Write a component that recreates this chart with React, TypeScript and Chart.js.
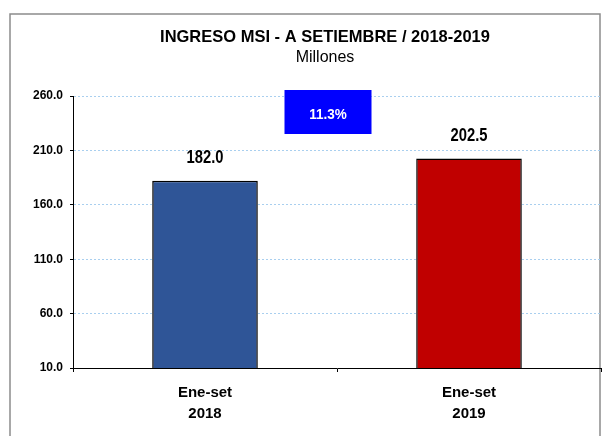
import React, { useEffect, useRef } from "react";
import { Chart, registerables } from "chart.js";

Chart.register(...registerables);

const categories: string[][] = [["Ene-set", "2018"], ["Ene-set", "2019"]];
const values: number[] = [182.0, 202.5];
const barColors: string[] = ["#2F5597", "#C00000"];
const yMin = 10;
const yMax = 260;
const yStep = 50;
const titleText = "INGRESO MSI - A SETIEMBRE / 2018-2019";
const subtitleText = "Millones";
const growthLabel = "11.3%";

const FONT = "'Liberation Sans', Arial, sans-serif";

function drawText(ctx: any, text: string, x: number, y: number, font: string, sx: number) {
  ctx.save();
  ctx.translate(x, y);
  ctx.scale(sx, 1);
  ctx.font = font;
  ctx.fillText(text, 0, 0);
  ctx.restore();
}

const decorPlugin = {
  id: "decor",
  beforeDraw(chart: any) {
    const ctx = chart.ctx;
    ctx.save();
    ctx.fillStyle = "#ffffff";
    ctx.fillRect(0, 0, chart.width, chart.height);
    ctx.strokeStyle = "#8c8c8c";
    ctx.lineWidth = 1.5;
    ctx.beginPath();
    ctx.moveTo(10, chart.height + 5);
    ctx.lineTo(10, 14);
    ctx.lineTo(600, 14);
    ctx.lineTo(600, chart.height + 5);
    ctx.stroke();
    ctx.restore();
  },
  afterDraw(chart: any) {
    const ctx = chart.ctx;
    ctx.save();
    ctx.textAlign = "center";
    ctx.textBaseline = "alphabetic";
    ctx.fillStyle = "#000";
    drawText(ctx, titleText, 325, 42, `bold 17px ${FONT}`, 0.97);
    drawText(ctx, subtitleText, 325, 62, `16px ${FONT}`, 1);

    // value labels
    const meta = chart.getDatasetMeta(0);
    meta.data.forEach((bar: any, i: number) => {
      drawText(ctx, values[i].toFixed(1), bar.x, bar.y - 18, `bold 18px ${FONT}`, 0.82);
    });

    // growth box
    const b0 = meta.data[0];
    const b1 = meta.data[1];
    const cx = (b0.x + b1.x) / 2 - 9;
    const yTop = chart.scales.y.getPixelForValue(yMax) - 6;
    ctx.fillStyle = "#0000FF";
    ctx.fillRect(cx - 43.5, yTop, 87, 44);
    ctx.fillStyle = "#ffffff";
    drawText(ctx, growthLabel, cx, yTop + 29, `bold 15px ${FONT}`, 0.9);
    ctx.restore();
  },
};

export default function App() {
  const ref = useRef<HTMLCanvasElement | null>(null);
  useEffect(() => {
    if (!ref.current) return;
    const chart = new Chart(ref.current, {
      type: "bar",
      data: {
        labels: categories,
        datasets: [
          {
            data: values,
            backgroundColor: barColors,
            borderColor: "#000000",
            borderWidth: 1.5,
            categoryPercentage: 1,
            barPercentage: 0.4,
          },
        ],
      },
      options: {
        responsive: false,
        animation: false,
        devicePixelRatio: 1,
        layout: { padding: { left: 0, right: 3, top: 96, bottom: 0 } },
        plugins: {
          legend: { display: false },
          title: { display: false },
          tooltip: { enabled: false },
        },
        scales: {
          x: {
            afterFit: (s: any) => { s.height = 68; },
            grid: {
              offset: true,
              drawOnChartArea: false,
              color: "#000",
              tickLength: 4,
            },
            border: { color: "#000", width: 1 },
            ticks: {
              color: "#000",
              font: { family: FONT, size: 15, weight: "bold", lineHeight: 1.4 },
              padding: 10,
            },
          },
          y: {
            min: yMin,
            max: yMax,
            afterFit: (s: any) => { s.width = 73; },
            ticks: {
              stepSize: yStep,
              color: "#000",
              font: { family: FONT, size: 12, weight: "bold" },
              padding: 7,
              callback: (v: any) => Number(v).toFixed(1),
            },
            grid: {
              color: "#A9CFEF",
              tickColor: "#000",
              tickLength: 3,
              lineWidth: 1,
            },
            border: { color: "#000", width: 1, dash: [2, 2] },
          },
        },
      },
      plugins: [decorPlugin],
    });
    return () => chart.destroy();
  }, []);
  return (
    <canvas
      ref={ref}
      width={604}
      height={436}
      style={{ position: "absolute", left: 0, top: 0, width: 604, height: 436 }}
    />
  );
}
